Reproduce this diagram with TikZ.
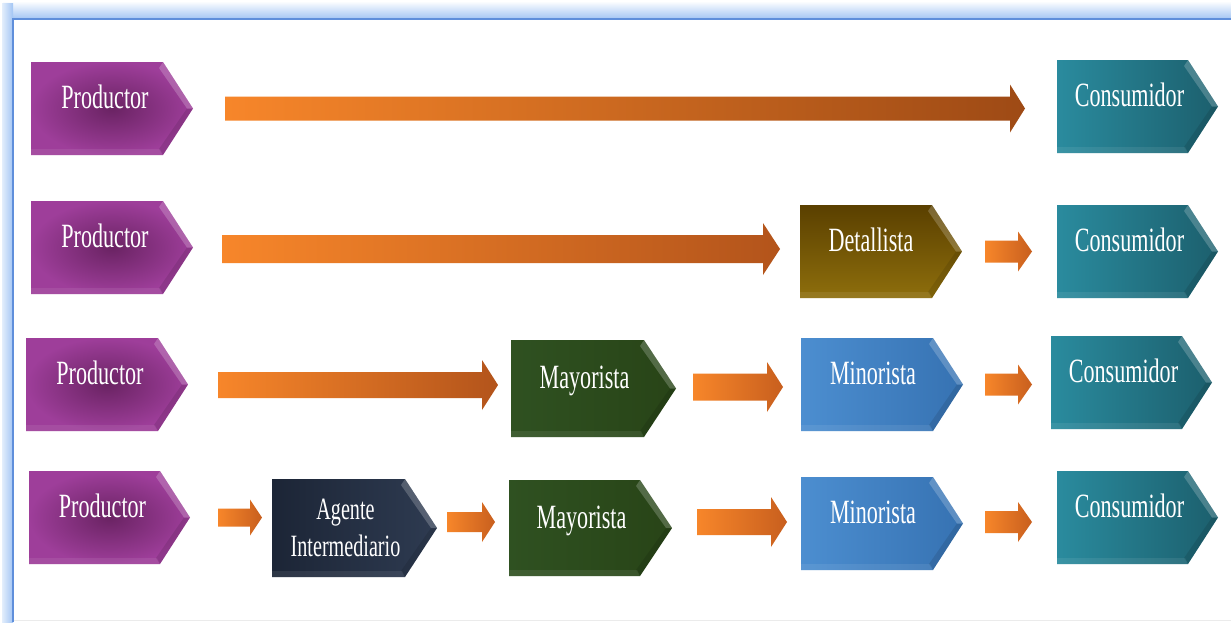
\documentclass[tikz,border=0pt]{standalone}
\usepackage{fontspec}
\newfontfamily\condfont[FakeStretch=0.65]{Liberation Serif}
\usetikzlibrary{calc}
\definecolor{prodIn}{HTML}{6A2363}
\definecolor{prodOut}{HTML}{9E3E9A}
\definecolor{consL}{HTML}{2A8B9E}
\definecolor{consR}{HTML}{1C5F6D}
\definecolor{detT}{HTML}{5A4000}
\definecolor{detB}{HTML}{8E6E0C}
\definecolor{mayL}{HTML}{2F5121}
\definecolor{mayR}{HTML}{284417}
\definecolor{minL}{HTML}{4C8ED0}
\definecolor{minR}{HTML}{3672B2}
\definecolor{agL}{HTML}{1C2536}
\definecolor{agR}{HTML}{2E3B51}
\definecolor{arrA}{HTML}{F7862A}
\definecolor{arrLong}{HTML}{9E4A15}
\definecolor{arrMid}{HTML}{B3541B}
\definecolor{arrShort}{HTML}{C85F1E}
\definecolor{frameLine}{HTML}{5F8FDB}
\definecolor{frameFill}{HTML}{A2C5F4}
\tikzset{
  chevbox/.style={draw=none, inner sep=0pt, outer sep=0pt, anchor=north west},
  lbl/.style={text=white, inner sep=0pt, anchor=base, font=\condfont\fontsize{34}{36}\selectfont},
  lbltwo/.style={text=white, inner sep=0pt, anchor=center, align=center, font=\condfont\fontsize{31}{37}\selectfont},
  prod/.style={inner color=prodIn, outer color=prodOut},
  cons/.style={left color=consL, right color=consR},
  det/.style={top color=detT, bottom color=detB},
  may/.style={left color=mayL, right color=mayR},
  mino/.style={left color=minL, right color=minR},
  agen/.style={left color=agL, right color=agR},
}
% #1 name, #2 x, #3 y, #4 w, #5 h, #6 point depth, #7 shading style
\newcommand\chev[7]{%
  \node[chevbox, minimum width=#4pt, minimum height=#5pt] (#1) at (#2,#3) {};
  \shade[#7] (#1.north west) -- ([xshift=-#6]#1.north east) -- (#1.east)
     -- ([xshift=-#6]#1.south east) -- (#1.south west) -- cycle;
  \fill[white, opacity=.2] ([xshift=-#6]#1.north east) -- (#1.east)
     -- ([xshift=-6pt]#1.east) -- ([xshift=-#6-4pt, yshift=-6pt]#1.north east) -- cycle;
  \fill[black, opacity=.1] ([xshift=-#6]#1.south east) -- (#1.east)
     -- ([xshift=-6pt]#1.east) -- ([xshift=-#6-4pt, yshift=6pt]#1.south east) -- cycle;
  \fill[white, opacity=.08] ([yshift=6pt]#1.south west) -- ([xshift=-#6-3pt, yshift=6pt]#1.south east)
     -- ([xshift=-#6]#1.south east) -- (#1.south west) -- cycle;
}
% #1 from, #2 to, #3 gap1, #4 gap2, #5 dy, #6 half shaft, #7 half head, #8 head length, #9 right colour
\newcommand\barrow[9]{%
  \shade[left color=arrA, right color=#9]
    let \p1=([xshift=#3]#1.east), \p2=([xshift=-#4]#2.west) in
    (\x1,\y1+#5-#6) -- (\x2-#8,\y1+#5-#6) -- (\x2-#8,\y1+#5-#7) -- (\x2,\y1+#5)
    -- (\x2-#8,\y1+#5+#7) -- (\x2-#8,\y1+#5+#6) -- (\x1,\y1+#5+#6) -- cycle;
}
\begin{document}
\begin{tikzpicture}[x=1pt,y=-1pt]
\useasboundingbox (0,0) rectangle (1231,622);
\fill[white] (0,0) rectangle (1231,622);
% frame
\shade[top color=white, bottom color=frameFill] (3,1) rectangle (1231,19);
\shade[left color=white!70!frameFill, right color=frameFill] (2,3) rectangle (13,622);
\draw[frameLine, line width=1.6pt] (13,622) -- (13,19) -- (1231,19);
\draw[black!8, line width=0.8pt] (14,620.5) -- (1231,620.5);
% row 1
\chev{p1}{31}{62}{162}{93}{30pt}{prod}
\chev{c1}{1057}{60}{161}{93}{30pt}{cons}
% row 2
\chev{p2}{31}{201}{162}{93}{30pt}{prod}
\chev{d2}{800}{205}{162}{93}{30pt}{det}
\chev{c2}{1057}{205}{161}{93}{30pt}{cons}
% row 3
\chev{p3}{26}{338}{162}{93}{30pt}{prod}
\chev{m3}{511}{340}{165}{97}{32pt}{may}
\chev{n3}{801}{338}{162}{93}{30pt}{mino}
\chev{c3}{1051}{336}{161}{93}{30pt}{cons}
% row 4
\chev{p4}{29}{471}{161}{93}{30pt}{prod}
\chev{a4}{272}{479}{165}{98}{32pt}{agen}
\chev{m4}{509}{480}{163}{96}{32pt}{may}
\chev{n4}{801}{477}{162}{93}{30pt}{mino}
\chev{c4}{1057}{471}{161}{93}{30pt}{cons}
% labels
\node[lbl] (p1t) at ([xshift=-7pt]p1.center) {Productor};
\node[lbl] (c1t) at ([xshift=-8pt]c1.center) {Consumidor};
\node[lbl] (p2t) at ([xshift=-7pt]p2.center) {Productor};
\node[lbl] (d2t) at ([xshift=-10pt]d2.center) {Detallista};
\node[lbl] (c2t) at ([xshift=-8pt]c2.center) {Consumidor};
\node[lbl] (p3t) at ([xshift=-7pt]p3.center) {Productor};
\node[lbl] (m3t) at ([xshift=-9pt]m3.center) {Mayorista};
\node[lbl] (n3t) at ([xshift=-9pt]n3.center) {Minorista};
\node[lbl] (c3t) at ([xshift=-8pt]c3.center) {Consumidor};
\node[lbl] (p4t) at ([xshift=-7pt]p4.center) {Productor};
\node[lbltwo] (a4t) at ([xshift=-9pt]a4.center) {Agente\\Intermediario};
\node[lbl] (m4t) at ([xshift=-9pt]m4.center) {Mayorista};
\node[lbl] (n4t) at ([xshift=-9pt]n4.center) {Minorista};
\node[lbl] (c4t) at ([xshift=-8pt]c4.center) {Consumidor};
% arrows
\barrow{p1}{c1}{32pt}{32pt}{0pt}{12pt}{24pt}{15pt}{arrLong}
\barrow{p2}{d2}{29pt}{20pt}{-1.5pt}{14pt}{26pt}{17pt}{arrMid}
\barrow{d2}{c2}{23pt}{25pt}{0pt}{11pt}{20pt}{14pt}{arrShort}
\barrow{p3}{m3}{30pt}{13pt}{-0.5pt}{13pt}{25pt}{16pt}{arrMid}
\barrow{m3}{n3}{17pt}{18pt}{1.5pt}{13.5pt}{25pt}{16pt}{arrShort}
\barrow{n3}{c3}{22pt}{19pt}{0pt}{11pt}{20pt}{14pt}{arrShort}
\barrow{p4}{a4}{28pt}{10pt}{0pt}{9pt}{18pt}{12pt}{arrShort}
\barrow{a4}{m4}{10pt}{14pt}{6pt}{10pt}{20pt}{13pt}{arrShort}
\barrow{m4}{n4}{25pt}{14pt}{6pt}{13pt}{25pt}{16pt}{arrShort}
\barrow{n4}{c4}{22pt}{25pt}{1.5pt}{11pt}{20pt}{14pt}{arrShort}
\end{tikzpicture}
\end{document}
